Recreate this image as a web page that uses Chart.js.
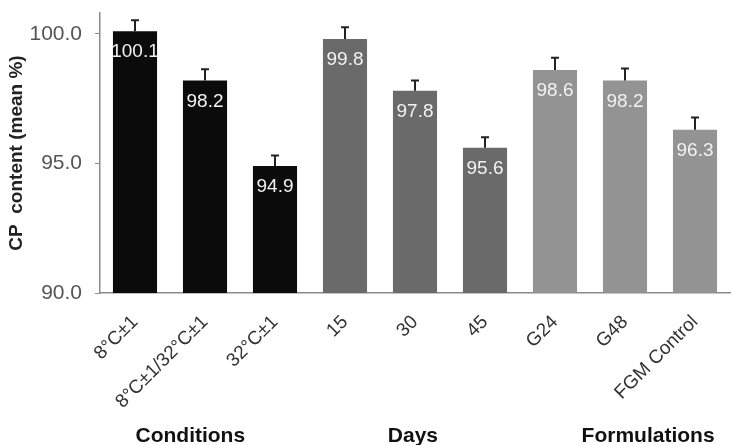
<!DOCTYPE html>
<html>
<head>
<meta charset="utf-8">
<script src="https://cdn.jsdelivr.net/npm/chart.js@4.4.1/dist/chart.umd.min.js"></script>
<style>
  html, body { margin: 0; padding: 0; background: #fff; }
  #wrap { width: 732px; height: 445px; position: relative; }
</style>
</head>
<body>
<div id="wrap"><canvas id="cpChart"></canvas></div>
<script>
/* ── Data ─────────────────────────────────────────── */
const categories = ['8°C±1', '8°C±1/32°C±1', '32°C±1', '15', '30', '45', 'G24', 'G48', 'FGM Control'];
const meanValues = [100.1, 98.2, 94.9, 99.8, 97.8, 95.6, 98.6, 98.2, 96.3];
const errValues  = [0.42, 0.43, 0.40, 0.45, 0.40, 0.41, 0.47, 0.46, 0.47];
const yTicks     = [90, 95, 100];
const groupNames = ['Conditions', 'Days', 'Formulations'];
const groupAnchor = [0.79, 3.97, 7.33];   // category index the group caption sits under

/* ── Colours per group ────────────────────────────── */
const groupColors = ['#0b0b0b', '#6a6a6a', '#939393'];
const barColors = categories.map((_, i) => groupColors[Math.floor(i / 3)]);

const FONT = 'Arial, "Liberation Sans", sans-serif';

/* ── Error bars + value labels + group captions ───── */
const extrasPlugin = {
  id: 'extras',
  afterDatasetsDraw(chart) {
    const { ctx, scales: { x, y } } = chart;
    const meta = chart.getDatasetMeta(0);
    ctx.save();
    meta.data.forEach((bar, i) => {
      const yTop = y.getPixelForValue(meanValues[i] + errValues[i]);
      ctx.strokeStyle = '#222';
      ctx.lineWidth = 2;
      ctx.beginPath();
      ctx.moveTo(bar.x, bar.y);
      ctx.lineTo(bar.x, yTop);
      ctx.moveTo(bar.x - 4, yTop);
      ctx.lineTo(bar.x + 4, yTop);
      ctx.stroke();

      ctx.fillStyle = '#f2f2f2';
      ctx.font = '19px ' + FONT;
      ctx.textAlign = 'center';
      ctx.textBaseline = 'middle';
      ctx.fillText(meanValues[i].toFixed(1), bar.x, bar.y + 21);
    });

    ctx.fillStyle = '#111';
    ctx.font = 'bold 21px ' + FONT;
    ctx.textAlign = 'center';
    ctx.textBaseline = 'middle';
    groupNames.forEach((name, g) => {
      ctx.fillText(name, x.getPixelForValue(groupAnchor[g]), 436);
    });
    ctx.restore();
  }
};

new Chart(document.getElementById('cpChart'), {
  type: 'bar',
  data: {
    labels: categories,
    datasets: [{
      data: meanValues,
      backgroundColor: barColors,
      borderWidth: 0,
      barPercentage: 0.63,
      categoryPercentage: 1,
    }]
  },
  options: {
    responsive: true,
    maintainAspectRatio: false,
    animation: false,
    layout: { padding: { top: 13, right: 2, bottom: 0, left: 0 } },
    plugins: {
      legend: { display: false },
      tooltip: { enabled: false }
    },
    scales: {
      x: {
        grid: { display: false },
        border: { color: '#8a8a8a', width: 1.5 },
        ticks: {
          color: '#333',
          font: { size: 19, family: FONT },
          minRotation: 45,
          maxRotation: 45,
          autoSkip: false,
          padding: 10
        },
        afterFit: s => { s.height = 152; s.paddingLeft = 0; s.paddingRight = 0; }
      },
      y: {
        min: 90,
        max: 100.8,
        afterBuildTicks: s => { s.ticks = yTicks.map(v => ({ value: v })); },
        grid: { drawOnChartArea: false, drawTicks: true, tickLength: 5, color: '#8a8a8a' },
        border: { color: '#8a8a8a', width: 1.5 },
        ticks: {
          color: '#555',
          font: { size: 21, family: FONT },
          padding: 13,
          callback: v => Number(v).toFixed(1)
        },
        title: {
          display: true,
          text: 'CP  content (mean %)',
          color: '#222',
          font: { size: 19, weight: 'bold', family: FONT },
          padding: { top: 5, bottom: 0 }
        },
        afterFit: s => { s.width = 100; s.paddingTop = 0; s.paddingBottom = 0; }
      }
    }
  },
  plugins: [extrasPlugin]
});
</script>
</body>
</html>
